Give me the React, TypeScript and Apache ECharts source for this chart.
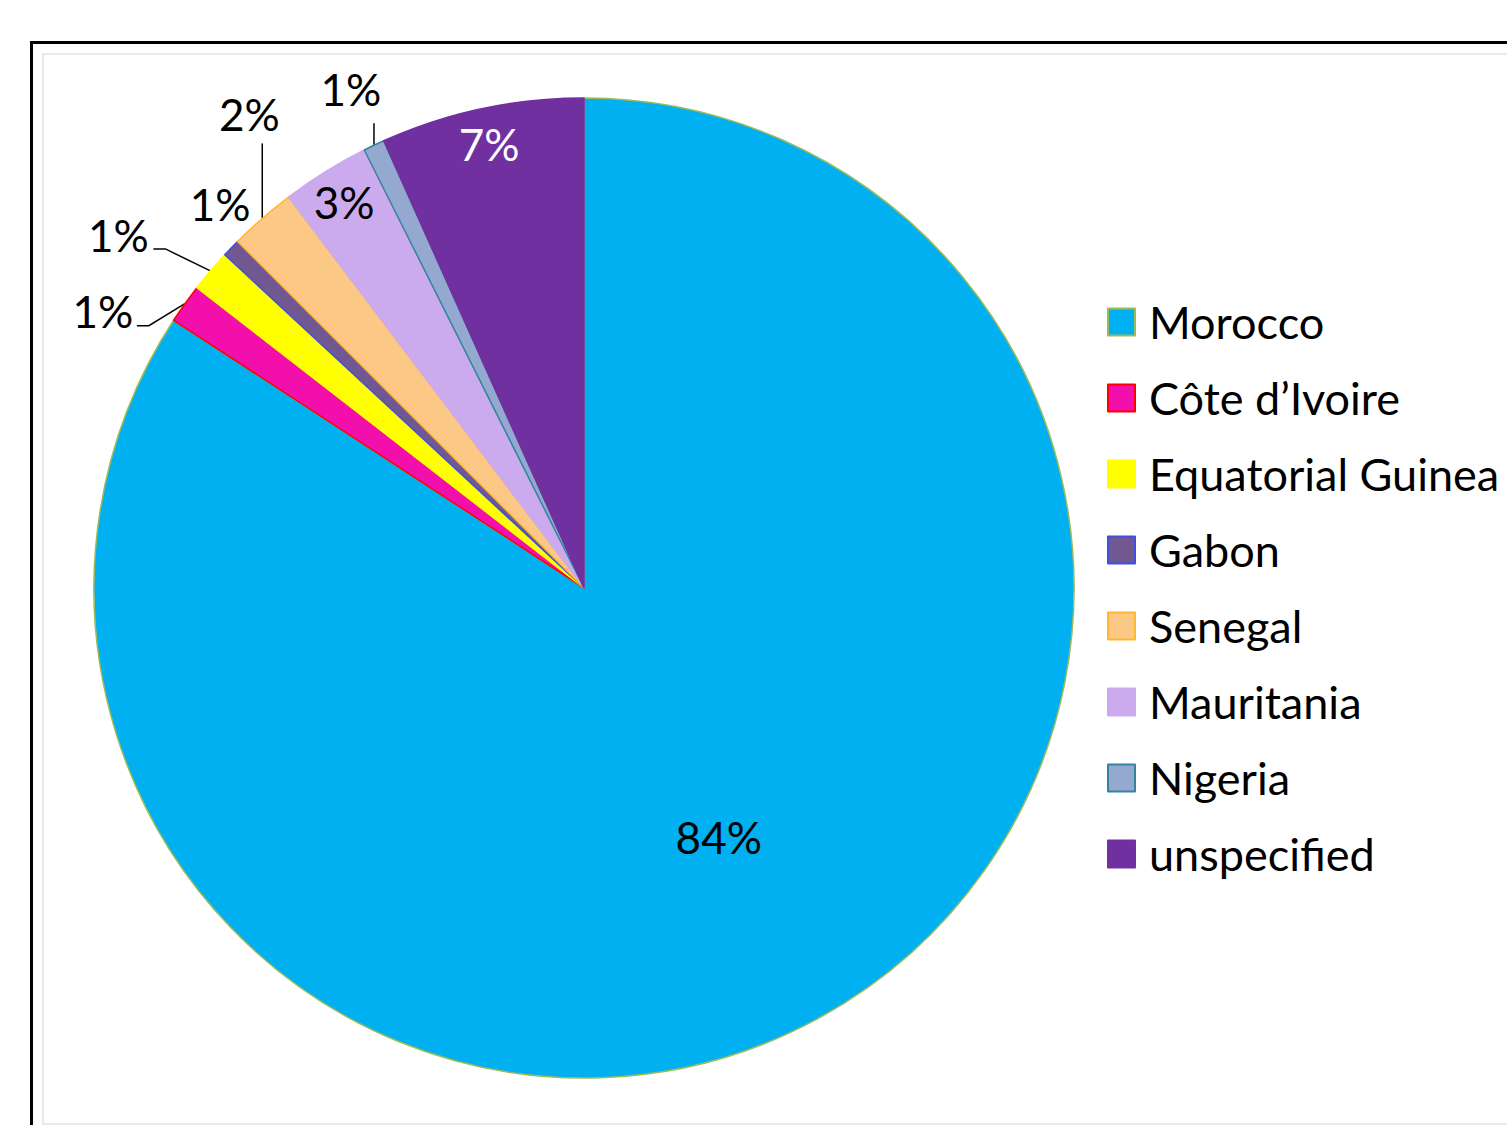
import React, { useEffect, useRef } from "react";
import * as echarts from "echarts";

// ---- data ----
const categories = [
  "Morocco",
  "Côte d’Ivoire",
  "Equatorial Guinea",
  "Gabon",
  "Senegal",
  "Mauritania",
  "Nigeria",
  "unspecified",
];
const shares = [84.2, 1.3, 1.4, 0.6, 2.2, 2.9, 0.7, 6.7];
const fillColors = ["#00b0f0", "#f20fab", "#ffff00", "#715890", "#fcc886", "#ccaaee", "#95a9d0", "#7030a0"];
const borderColors = ["#9bbb59", "#ff0000", "#ffff00", "#3f4fe0", "#ffb82e", "#ccaaee", "#31859c", "#7030a0"];

// which labels sit where
const outerLabelItems = [1, 2, 3, 4, 6];
const centralLabelItems = [0];
const rimLabelItems = [5, 7];
const whiteLabelItems = [7];

// ---- layout / style ----
const FONT = "Lato, 'Liberation Sans', sans-serif";
const FONT_SIZE = 44;
const CENTER = [584, 588];
const R = 490;
// offsets of outer labels (text centre) and leader-line bends relative to the slice edge anchor
const outerOffsets: Record<number, { text: [number, number]; line: [number, number][] | null }> = {
  1: { text: [-82, 7], line: [[-36, 22], [-48, 22]] },
  2: { text: [-92, -36], line: [[-45, -22], [-57, -22]] },
  3: { text: [-11, -44], line: null },
  4: { text: [-13, -104], line: [[0, -75], [0, -75]] },
  6: { text: [-23, -56], line: [[0, -22], [0, -22]] },
};

const fmtPct = (p: any) => `${Math.round(p.percent)}%`;

export default function App() {
  const ref = useRef<HTMLDivElement>(null);
  useEffect(() => {
    if (!ref.current) return;
    const chart = echarts.init(ref.current, undefined, { renderer: "svg" });

    const mainData = categories.map((name, i) => ({
      name,
      value: shares[i],
      itemStyle: { color: fillColors[i], borderColor: borderColors[i], borderWidth: 1.5 },
      label: { show: outerLabelItems.includes(i) },
      labelLine: { show: outerLabelItems.includes(i) && outerOffsets[i]?.line != null },
    }));
    const overlayData = (items: number[]) =>
      categories.map((name, i) => ({
        name,
        value: shares[i],
        label: {
          show: items.includes(i),
          color: whiteLabelItems.includes(i) ? "#ffffff" : "#000000",
        },
      }));

    const overlayCommon = {
      type: "pie" as const,
      center: CENTER,
      startAngle: 90,
      silent: true,
      avoidLabelOverlap: false,
      itemStyle: { color: "transparent", borderWidth: 0 },
      emphasis: { disabled: true },
      labelLine: { show: false },
      label: {
        position: "inside",
        formatter: fmtPct,
        fontFamily: FONT,
        fontSize: FONT_SIZE,
      },
    };

    chart.setOption({
      animation: false,
      backgroundColor: "#ffffff",
      graphic: [
        {
          type: "rect",
          silent: true,
          shape: { x: 31.5, y: 42.5, width: 1600, height: 1300 },
          style: { fill: "none", stroke: "#000000", lineWidth: 3 },
        },
        {
          type: "rect",
          silent: true,
          shape: { x: 43, y: 54, width: 1600, height: 1070 },
          style: { fill: "none", stroke: "#ece9df", lineWidth: 2 },
        },
      ],
      legend: {
        orient: "vertical",
        left: 1107,
        top: 299,
        padding: 0,
        itemWidth: 27,
        itemHeight: 27,
        itemGap: 30,
        icon: "rect",
        data: categories,
        textStyle: {
          fontFamily: FONT,
          fontSize: 45,
          lineHeight: 46,
          color: "#000000",
          padding: [0, 0, 0, 9],
        },
      },
      series: [
        {
          type: "pie",
          name: "share",
          center: CENTER,
          radius: R,
          startAngle: 90,
          clockwise: true,
          avoidLabelOverlap: false,
          emphasis: { disabled: true },
          label: {
            position: "outside",
            formatter: fmtPct,
            fontFamily: FONT,
            fontSize: FONT_SIZE,
            color: "#000000",
          },
          labelLine: {
            length: 20,
            length2: 10,
            lineStyle: { color: "#000000", width: 1.5 },
          },
          labelLayout: (params: any) => {
            const off = outerOffsets[params.dataIndex];
            if (params.seriesIndex !== 0 || !off || !params.labelLinePoints) return {};
            const [ax, ay] = params.labelLinePoints[0];
            const res: any = {
              x: ax + off.text[0],
              y: ay + off.text[1],
              align: "center",
              verticalAlign: "middle",
            };
            if (off.line) {
              res.labelLinePoints = [[ax, ay], ...off.line.map(([dx, dy]) => [ax + dx, ay + dy])];
            }
            return res;
          },
          data: mainData,
        },
        { ...overlayCommon, name: "centre labels", radius: [70, R], data: overlayData(centralLabelItems) },
        { ...overlayCommon, name: "rim labels", radius: [413, R], data: overlayData(rimLabelItems) },
      ],
    });
    return () => chart.dispose();
  }, []);

  return (
    <div
      ref={ref}
      style={{ position: "fixed", left: 0, top: 0, width: 1507, height: 1125, background: "#fff" }}
    />
  );
}
